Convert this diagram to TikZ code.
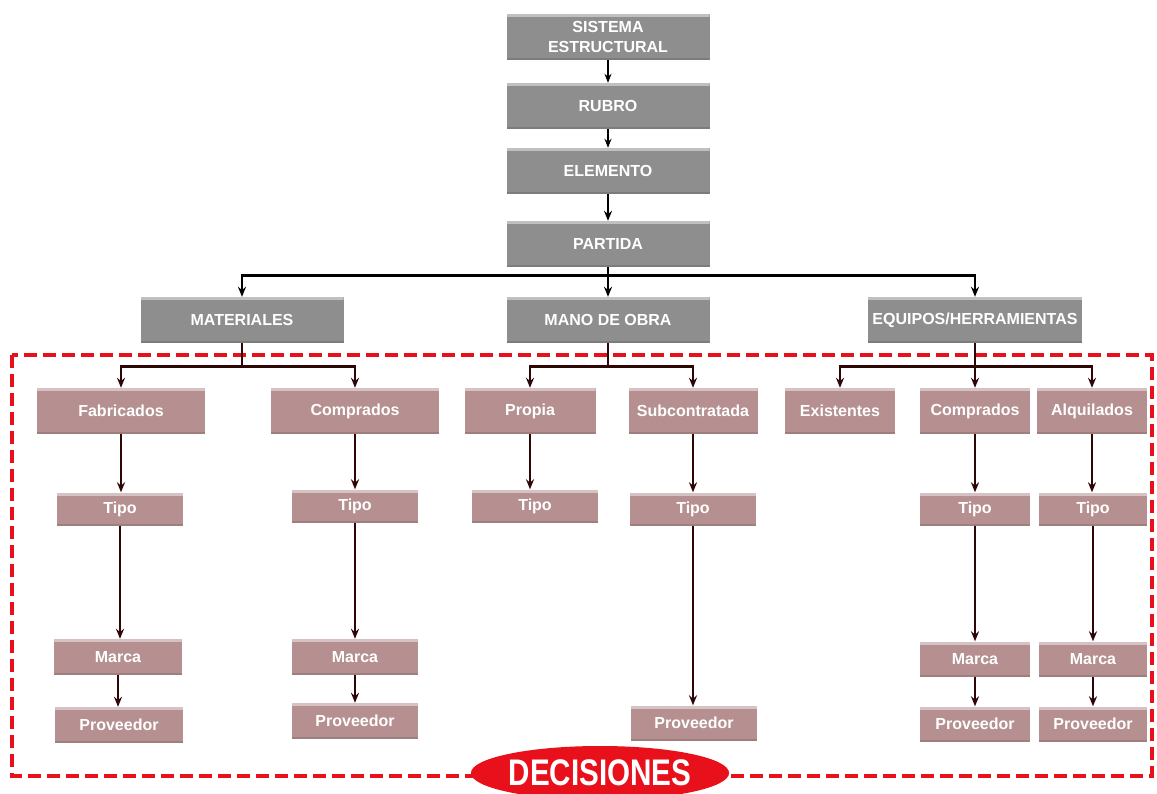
\documentclass[tikz,border=0pt]{standalone}
\usepackage{fontspec}
\setmainfont{Liberation Sans}
\newfontfamily\decfont[FakeStretch=0.8]{Liberation Sans}
\usetikzlibrary{arrows.meta,shapes.geometric}
\definecolor{grayfill}{HTML}{8E8E8E}
\definecolor{pinkfill}{HTML}{B69090}
\definecolor{conn}{HTML}{2E0606}
\definecolor{decred}{HTML}{E8101A}
\tikzset{
  basebox/.style={draw=none, inner sep=0pt, text=white, align=center,
    font=\fontsize{16}{20}\selectfont\bfseries,
    path picture={
      \fill[white,opacity=0.45] (path picture bounding box.north west) rectangle ([yshift=-3pt]path picture bounding box.north east);
      \fill[black,opacity=0.12] (path picture bounding box.south west) rectangle ([yshift=2pt]path picture bounding box.south east);
    }},
  graybox/.style={basebox, fill=grayfill, minimum width=203pt, minimum height=46pt},
  pinkbox/.style={basebox, fill=pinkfill, minimum height=46pt},
  smallbox/.style={basebox, fill=pinkfill, minimum height=35pt},
  toparrow/.style={-{Stealth[length=9pt,width=7pt]}, line width=1.6pt, black},
  busarrow/.style={-{Stealth[length=10pt,width=8pt]}, line width=2.8pt, black},
  connarrow/.style={-{Stealth[length=10pt,width=8pt]}, line width=2.8pt, conn},
  decborder/.style={decred, line width=3.5pt, dash pattern=on 13pt off 6pt}
}
\begin{document}
\begin{tikzpicture}[x=1pt,y=-1pt]
\useasboundingbox[fill=white] (0,0) rectangle (1157,794);

% dashed frame
\draw[decborder] (12,355) rectangle (1152,776);

% top chain
\node[graybox] (sis) at (608,37) {SISTEMA\\ESTRUCTURAL};
\node[graybox] (rub) at (608,106) {RUBRO};
\node[graybox] (ele) at (608,171) {ELEMENTO};
\node[graybox] (par) at (608,244) {PARTIDA};

\node[graybox] (mat) at (242,320) {MATERIALES};
\node[graybox] (mano) at (608,320) {MANO DE OBRA};
\node[graybox, minimum width=214pt] (equ) at (975,320) {EQUIPOS/HERRAMIENTAS};

% level 1
\node[pinkbox, minimum width=168pt] (fab) at (121,411) {Fabricados};
\node[pinkbox, minimum width=168pt] (compA) at (355,411) {Comprados};
\node[pinkbox, minimum width=131pt] (prop) at (530,411) {Propia};
\node[pinkbox, minimum width=129pt] (sub) at (693,411) {Subcontratada};
\node[pinkbox, minimum width=110pt] (exi) at (840,411) {Existentes};
\node[pinkbox, minimum width=110pt] (compB) at (975,411) {Comprados};
\node[pinkbox, minimum width=110pt] (alq) at (1092,411) {Alquilados};

% Tipo
\node[smallbox, minimum width=126pt, minimum height=33pt] (tipoA) at (120,509) {Tipo};
\node[smallbox, minimum width=126pt, minimum height=33pt] (tipoB) at (355,506) {Tipo};
\node[smallbox, minimum width=126pt, minimum height=33pt] (tipoC) at (535,506) {Tipo};
\node[smallbox, minimum width=126pt, minimum height=33pt] (tipoD) at (693,509) {Tipo};
\node[smallbox, minimum width=110pt, minimum height=33pt] (tipoE) at (975,509) {Tipo};
\node[smallbox, minimum width=108pt, minimum height=33pt] (tipoF) at (1093,509) {Tipo};

% Marca
\node[smallbox, minimum width=128pt, minimum height=36pt] (marcaA) at (118,657) {Marca};
\node[smallbox, minimum width=126pt, minimum height=36pt] (marcaB) at (355,657) {Marca};
\node[smallbox, minimum width=110pt, minimum height=35pt] (marcaE) at (975,659) {Marca};
\node[smallbox, minimum width=108pt, minimum height=35pt] (marcaF) at (1093,659) {Marca};

% Proveedor
\node[smallbox, minimum width=128pt, minimum height=36pt] (provA) at (119,725) {Proveedor};
\node[smallbox, minimum width=126pt, minimum height=36pt] (provB) at (355,721) {Proveedor};
\node[smallbox, minimum width=126pt, minimum height=35pt] (provD) at (694,723) {Proveedor};
\node[smallbox, minimum width=110pt, minimum height=35pt] (provE) at (975,724) {Proveedor};
\node[smallbox, minimum width=108pt, minimum height=35pt] (provF) at (1093,724) {Proveedor};

% connectors top
\draw[toparrow] (sis) -- (rub);
\draw[toparrow] (rub) -- (ele);
\draw[busarrow] (ele) -- (par);
\draw[line width=2.8pt, black] (par.south) -- ++(0,8);
\draw[busarrow] (par.south) ++(0,8) -| (mat.north);
\draw[busarrow] (par.south) -- (mano.north);
\draw[busarrow] (par.south) ++(0,8) -| (equ.north);

% level-1 buses
\draw[line width=2.8pt, conn] (mat.south) -- ++(0,23);
\draw[connarrow] (mat.south) ++(0,23) -| (fab.north);
\draw[connarrow] (mat.south) ++(0,23) -| (compA.north);
\draw[line width=2.8pt, conn] (mano.south) -- ++(0,23);
\draw[connarrow] (mano.south) ++(0,23) -| (prop.north);
\draw[connarrow] (mano.south) ++(0,23) -| (sub.north);
\draw[line width=2.8pt, conn] (equ.south) -- ++(0,23);
\draw[connarrow] (equ.south) ++(0,23) -| (exi.north);
\draw[connarrow] (equ.south) -- (compB.north);
\draw[connarrow] (equ.south) ++(0,23) -| (alq.north);

% vertical chains
\draw[connarrow] (fab.south) -- (fab.south |- tipoA.north);
\draw[connarrow] (tipoA.south) -- (tipoA.south |- marcaA.north);
\draw[connarrow] (marcaA.south) -- (marcaA.south |- provA.north);
\draw[connarrow] (compA.south) -- (compA.south |- tipoB.north);
\draw[connarrow] (tipoB.south) -- (tipoB.south |- marcaB.north);
\draw[connarrow] (marcaB.south) -- (marcaB.south |- provB.north);
\draw[connarrow] (prop.south) -- (prop.south |- tipoC.north);
\draw[connarrow] (sub.south) -- (sub.south |- tipoD.north);
\draw[connarrow] (tipoD.south) -- (tipoD.south |- provD.north);
\draw[connarrow] (compB.south) -- (compB.south |- tipoE.north);
\draw[connarrow] (tipoE.south) -- (tipoE.south |- marcaE.north);
\draw[connarrow] (marcaE.south) -- (marcaE.south |- provE.north);
\draw[connarrow] (alq.south) -- (alq.south |- tipoF.north);
\draw[connarrow] (tipoF.south) -- (tipoF.south |- marcaF.north);
\draw[connarrow] (marcaF.south) -- (marcaF.south |- provF.north);

% DECISIONES
\node[ellipse, fill=decred, minimum width=240pt, minimum height=54pt, inner sep=0pt, text=white,
  font=\decfont\bfseries\fontsize{37}{40}\selectfont] (dec) at (600,773) {DECISIONES};
\end{tikzpicture}
\end{document}
